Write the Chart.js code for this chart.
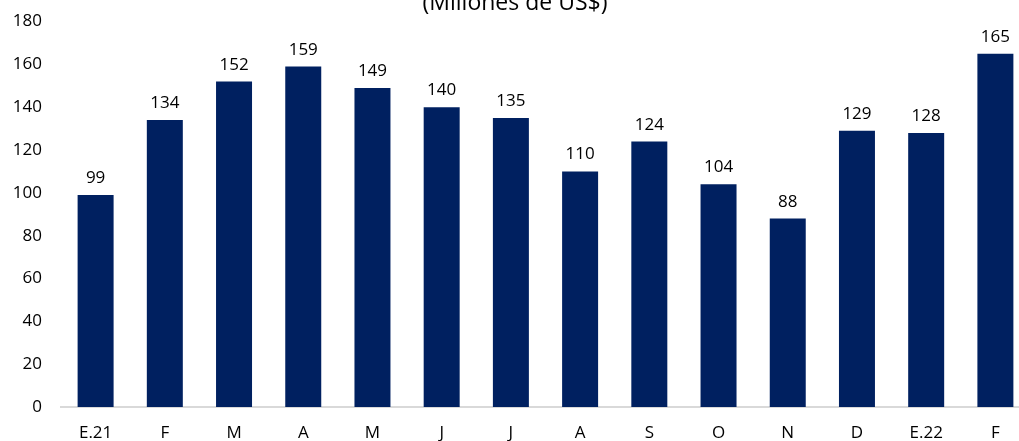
<!DOCTYPE html>
<html>
<head>
<meta charset="utf-8">
<script src="https://cdn.jsdelivr.net/npm/chart.js@4.4.0/dist/chart.umd.min.js"></script>
<style>
  html, body { margin: 0; padding: 0; background: #fff; overflow: hidden; }
  #marco { position: absolute; left: 0; top: -20px; width: 1030px; height: 461px; }
</style>
</head>
<body>
<div id="marco"><canvas id="graficoExportaciones"></canvas></div>
<script>
// datos
const meses = ['E.21', 'F', 'M', 'A', 'M', 'J', 'J', 'A', 'S', 'O', 'N', 'D', 'E.22', 'F'];
const valores = [99, 134, 152, 159, 149, 140, 135, 110, 124, 104, 88, 129, 128, 165];
const titulo = '(Millones de US$)';
const ejeMin = 0;
const ejeMax = 180;
const ejePaso = 20;

const fuente = "'Open Sans', 'Liberation Sans', sans-serif";

// etiquetas encima de cada barra
const etiquetasBarras = {
    id: 'etiquetasBarras',
    afterDatasetsDraw(chart) {
        const ctx = chart.ctx;
        const meta = chart.getDatasetMeta(0);
        ctx.save();
        ctx.font = '17px ' + fuente;
        ctx.fillStyle = '#000';
        ctx.textAlign = 'center';
        ctx.textBaseline = 'alphabetic';
        meta.data.forEach((barra, i) => {
            ctx.fillText(String(valores[i]), barra.x, barra.y - 12);
        });
        ctx.restore();
    }
};

const ctx = document.getElementById('graficoExportaciones').getContext('2d');
new Chart(ctx, {
    type: 'bar',
    data: {
        labels: meses,
        datasets: [{
            data: valores,
            backgroundColor: '#002060',
            barPercentage: 0.52,
            categoryPercentage: 1
        }]
    },
    options: {
        responsive: true,
        maintainAspectRatio: false,
        animation: false,
        layout: { padding: 0 },
        plugins: {
            legend: { display: false },
            tooltip: { enabled: false },
            title: {
                display: true,
                text: titulo,
                color: '#000',
                font: { family: fuente, size: 23, weight: 'normal' },
                padding: { top: 10, bottom: 4 }
            }
        },
        scales: {
            x: {
                afterFit(escala) { escala.height = 34; },
                grid: { display: false, drawTicks: false },
                border: { display: true, color: '#d9d9d9', width: 2 },
                ticks: {
                    color: '#000',
                    font: { family: fuente, size: 17 },
                    padding: 16,
                    maxRotation: 0,
                    autoSkip: false
                }
            },
            y: {
                min: ejeMin,
                max: ejeMax,
                afterFit(escala) { escala.width = 61; },
                grid: { display: false, drawTicks: false },
                border: { display: false },
                ticks: {
                    stepSize: ejePaso,
                    color: '#000',
                    font: { family: fuente, size: 17 },
                    padding: 19
                }
            }
        }
    },
    plugins: [etiquetasBarras]
});
</script>
</body>
</html>
